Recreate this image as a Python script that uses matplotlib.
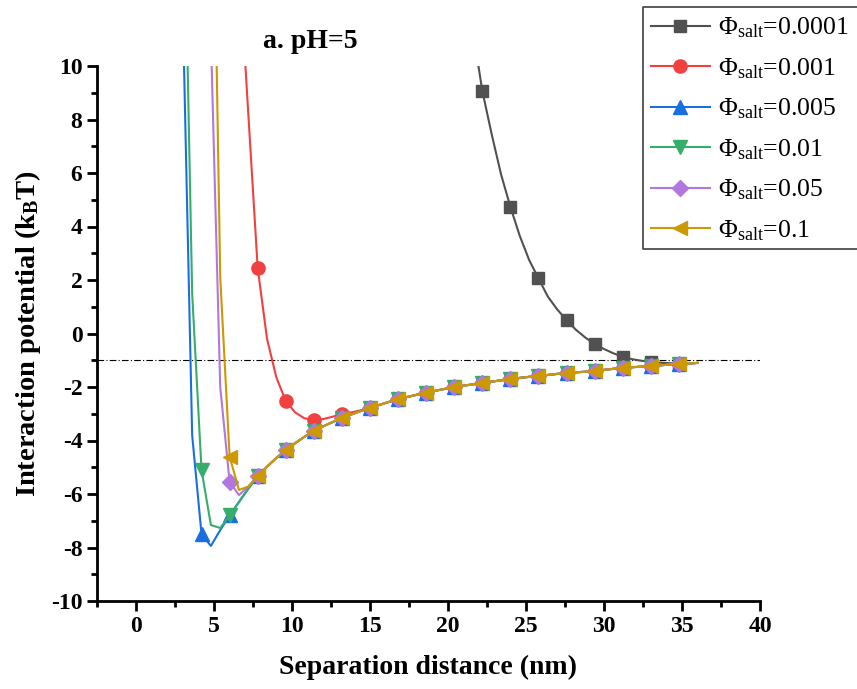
import numpy as np
import matplotlib
matplotlib.use("Agg")
import matplotlib.pyplot as plt
from matplotlib.patches import Rectangle

plt.rcParams['font.family'] = ['Liberation Serif', 'DejaVu Serif']
plt.rcParams['mathtext.fontset'] = 'custom'
plt.rcParams['mathtext.rm'] = 'Liberation Serif'
plt.rcParams['mathtext.it'] = 'Liberation Serif:italic'
plt.rcParams['mathtext.bf'] = 'Liberation Serif:bold'
plt.rcParams['axes.unicode_minus'] = False

nan = np.nan

# Separation distance grid (nm)
distance = [3.0, 3.6, 4.2, 4.8, 5.4, 6.0, 6.6, 7.2, 7.8, 8.4, 9.0, 9.6, 10.2, 10.8,
            11.4, 12.0, 12.6, 13.2, 13.8, 14.4, 15.0, 15.6, 16.2, 16.8, 17.4, 18.0,
            18.6, 19.2, 19.8, 20.4, 21.0, 21.6, 22.2, 22.8, 23.4, 24.0, 24.6, 25.2,
            25.8, 26.4, 27.0, 27.6, 28.2, 28.8, 29.4, 30.0, 30.6, 31.2, 31.8, 32.4,
            33.0, 33.6, 34.2, 34.8, 35.4, 36.0]

# Shared long-range attractive branch, 7.8 nm to 36.0 nm (kBT)
tail = [-5.33, -4.98, -4.65, -4.36, -4.10, -3.86, -3.65, -3.47, -3.31, -3.17,
        -3.03, -2.90, -2.79, -2.67, -2.56, -2.46, -2.37, -2.29, -2.22, -2.14,
        -2.07, -2.00, -1.95, -1.90, -1.85, -1.80, -1.75, -1.70, -1.66, -1.62,
        -1.59, -1.55, -1.51, -1.48, -1.45, -1.43, -1.40, -1.36, -1.32, -1.29,
        -1.26, -1.24, -1.21, -1.19, -1.16, -1.14, -1.12, -1.10]

# Short-range parts, 3.0 nm to 7.2 nm
head_0005 = [12.1, -3.8, -7.5, -7.94, -7.35, -6.8, -6.3, -5.8]
head_001 = [19.1, 1.5, -5.1, -7.16, -7.27, -6.8, -6.3, -5.8]
head_005 = [nan, nan, nan, 11.1, -2.0, -5.55, -6.04, -5.72]
head_01 = [nan, nan, nan, 22.8, 2.1, -4.6, -5.85, -5.72]

# Phi_salt = 0.001, 3.0 nm to 14.4 nm
head_0001 = [nan, nan, nan, nan, nan, nan, 14.0, 8.2, 2.45, -0.2, -1.65, -2.52,
             -2.95, -3.17, -3.23, -3.20, -3.11, -3.02, -2.95, -2.87]

# Phi_salt = 0.0001, 21.6 nm to 36.0 nm
vals_00001 = [11.3, 9.07, 7.45, 5.95, 4.73, 3.65, 2.75, 2.06, 1.38, 0.90, 0.50,
              0.14, -0.15, -0.40, -0.58, -0.74, -0.87, -0.96, -1.02, -1.06, -1.09,
              -1.11, -1.13, -1.12, -1.10]

labels = ['0.0001', '0.001', '0.005', '0.01', '0.05', '0.1']
colors = ['#515151', '#F14040', '#1A6FDF', '#37AD6B', '#B177DE', '#CC9900']
markers = ['s', 'o', '^', 'v', 'D', '<']
msizes = [8.5, 9.5, 9.5, 9.5, 8, 9.5]

series = [
    [nan] * (len(distance) - len(vals_00001)) + vals_00001,
    head_0001 + tail[len(head_0001) - 8:],
    head_0005 + tail,
    head_001 + tail,
    head_005 + tail,
    head_01 + tail,
]

fig = plt.figure(figsize=(8.57, 6.89), dpi=100)
ax = fig.add_axes([97 / 857, 1 - 601 / 689, 663 / 857, 535 / 689])

x = np.array(distance)
for y, lab, c, m, ms in zip(series, labels, colors, markers, msizes):
    ax.plot(x, np.array(y, dtype=float), color=c, lw=1.5, marker=m, ms=ms,
            markevery=slice(2, None, 3), mec=c, mfc=c,
            label=r'$\Phi_{\mathrm{salt}}$=' + lab)

ax.axhline(-1, color='black', lw=0.8, ls=(0, (6, 2, 1, 2)), zorder=1)

ax.set_xlim(-2.5, 40)
ax.set_ylim(-10, 10)
ax.set_xticks(np.arange(0, 41, 5))
ax.set_xticks(np.arange(-2.5, 40.1, 2.5), minor=True)
ax.set_yticks(np.arange(-10, 11, 2))
ax.set_yticks(np.arange(-10, 11, 1), minor=True)

for s in ['top', 'right']:
    ax.spines[s].set_visible(False)
for s in ['left', 'bottom']:
    ax.spines[s].set_linewidth(2)

ax.tick_params(which='major', direction='out', length=7, width=2, labelsize=17)
ax.tick_params(which='minor', direction='out', length=4, width=2)
for t in ax.get_xticklabels() + ax.get_yticklabels():
    t.set_fontweight('bold')

ax.set_xlabel('Separation distance (nm)', fontsize=20, fontweight='bold', va='center')
ax.xaxis.set_label_coords(0.5, -(667 - 601) / 535)
ax.set_ylabel(r'Interaction potential (k$_{\mathbf{B}}$T)', fontsize=20.5,
              fontweight='bold', va='center')
ax.yaxis.set_label_coords((28 - 97) / 663, 0.5)

fig.text(310 / 857, 1 - 42 / 689, 'a. pH=5', ha='center', va='center',
         fontsize=20, fontweight='bold')

# Legend box open at the right figure edge: white fill plus a three-sided outline
bx0, bx1 = 643 / 857, 1.0
by0, by1 = 1 - 249 / 689, 1 - 7 / 689
ax.add_patch(Rectangle((bx0, by0), bx1 - bx0, by1 - by0, transform=fig.transFigure,
                       clip_on=False, facecolor='white', edgecolor='none',
                       zorder=4.4))
ax.plot([bx1, bx0, bx0, bx1], [by1, by1, by0, by0], transform=fig.transFigure,
        clip_on=False, color='#404040', lw=1.2, zorder=4.5)

leg = ax.legend(loc='upper left', bbox_to_anchor=(643 / 857, 1 - 8 / 689),
                bbox_transform=fig.transFigure, frameon=False, fontsize=18.5,
                handlelength=2.3, handletextpad=0.3, labelspacing=0.62,
                borderpad=0.3, borderaxespad=0)

fig.savefig('out.png', dpi=100)
